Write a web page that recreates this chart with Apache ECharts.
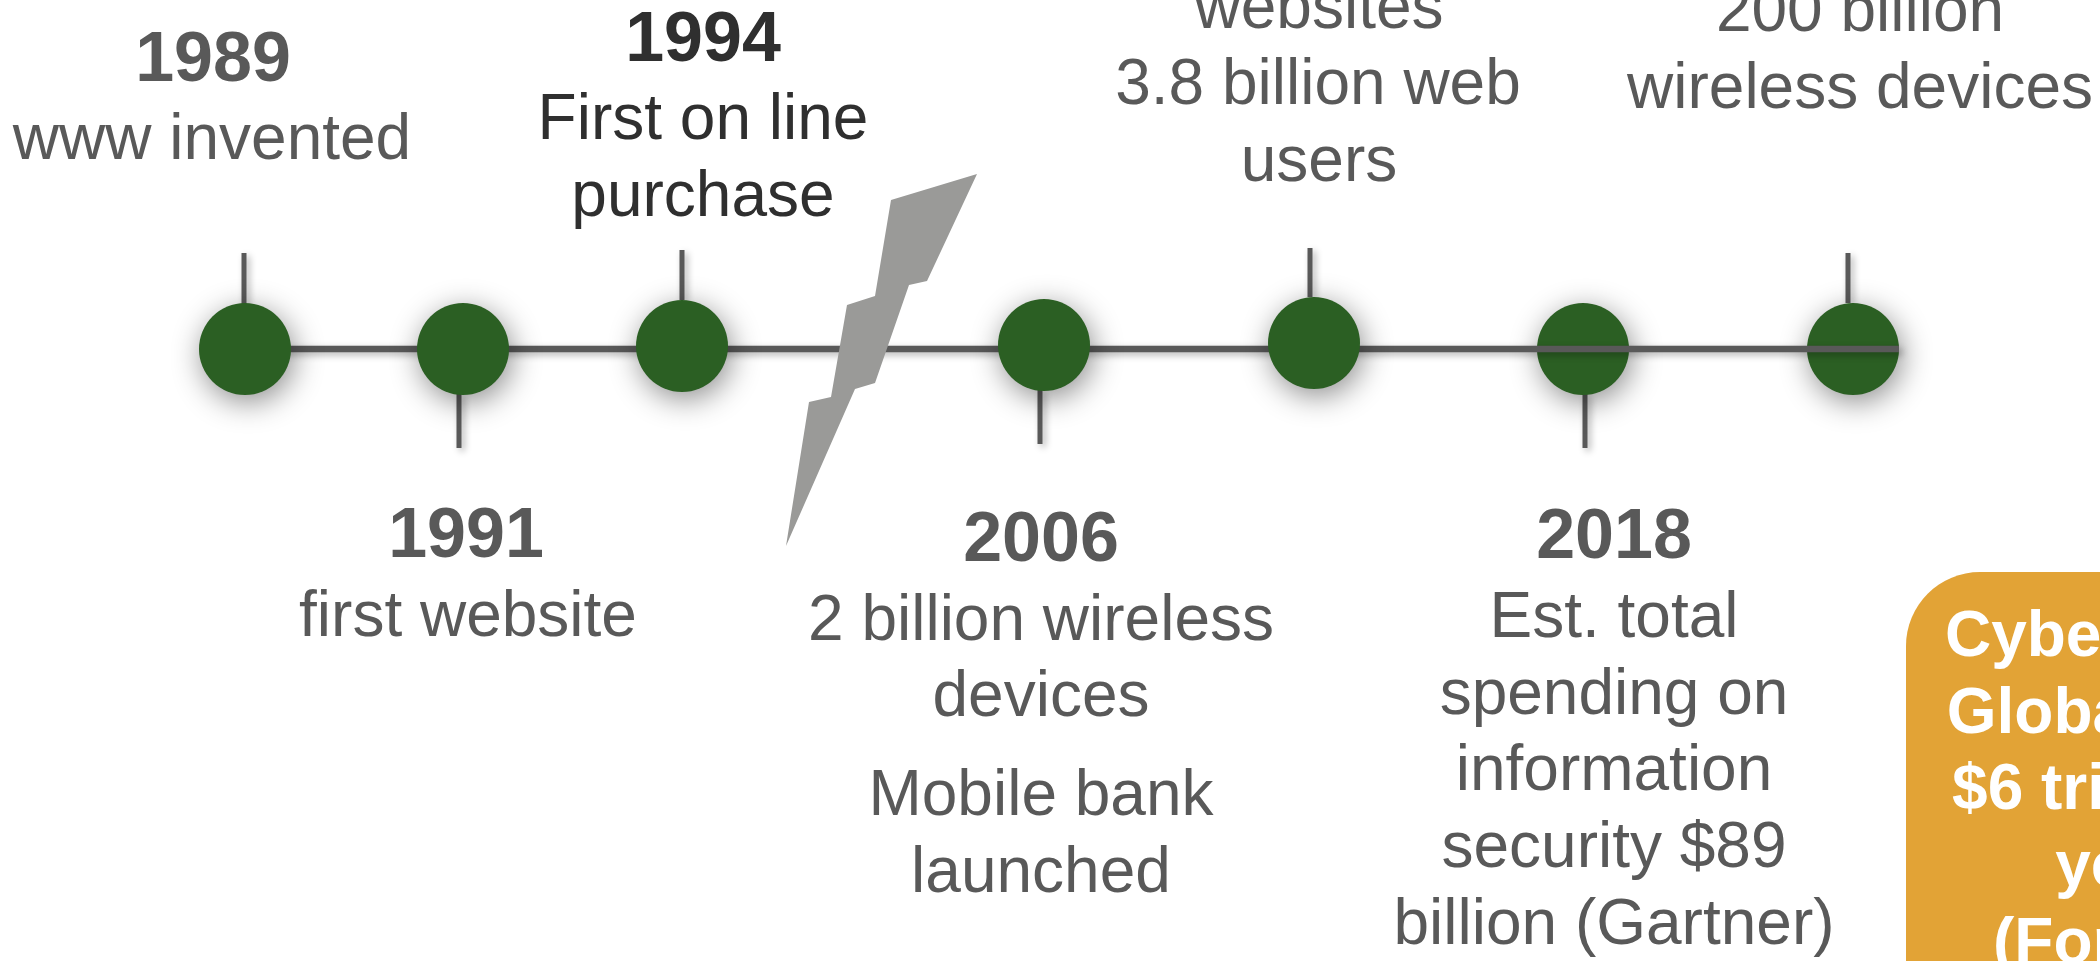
<!DOCTYPE html>
<html>
<head>
<meta charset="utf-8">
<style>html,body{margin:0;padding:0;background:#fff}#c{width:2100px;height:961px}</style>
<script src="https://cdn.jsdelivr.net/npm/echarts@6/dist/echarts.min.js"></script>
</head>
<body>
<div id="c"></div>
<script>
// Timeline nodes
var nodeX = [245, 463, 682, 1044, 1314, 1583, 1853];
var nodeY = [349, 349, 346, 345, 343, 349, 349];
// Stems: x, start and end
var stemX = [244, 459, 682, 1040, 1310, 1585, 1848];
var stemFrom = [305, 393, 300, 389, 297, 393, 303];
var stemTo = [253, 448, 250, 444, 248, 448, 253];
// Backbone
var backboneX = [245, 1899];
var backboneY = [349, 349];
// Axis break
var boltX = [977, 891, 875, 847, 831, 809, 786, 855, 875, 909, 927];
var boltY = [174, 200, 296, 305, 397, 402, 546, 389, 383, 285, 281];
// Callout
var calloutX = [1906, 2340];
var calloutY = [572, 1110];
// Text rows
var labelText = [
  '1989', 'www invented',
  '1991', 'first website',
  '1994', 'First on line', 'purchase',
  '2006', '2 billion wireless', 'devices', 'Mobile bank', 'launched',
  'websites', '3.8 billion web', 'users',
  '2018', 'Est. total', 'spending on', 'information', 'security $89', 'billion (Gartner)',
  '200 billion', 'wireless devices'
];
var labelX = [
  213, 212,
  466, 468,
  703, 703, 703,
  1041, 1041, 1041, 1041, 1041,
  1319, 1318, 1319,
  1614, 1614, 1614, 1614, 1614, 1614,
  1860, 1860
];
var labelBase = [
  80, 158,
  556, 635,
  60, 138, 215,
  560, 639, 715, 814, 891,
  27, 103, 180,
  557, 636, 713, 789, 866, 943,
  30, 107
];
var labelKind = [
  'year', 'text',
  'year', 'text',
  'yearDark', 'textDark', 'textDark',
  'year', 'text', 'text', 'text', 'text',
  'text', 'text', 'text',
  'year', 'text', 'text', 'text', 'text', 'text',
  'text', 'text'
];
var calloutText = ['Cybercrime', 'Global cost', '$6 trillion a', 'year', '(Forbes)'];
var calloutTextX = [2121, 2121, 2121, 2121, 2121];
var calloutBase = [655, 732, 808, 885, 962];

var FONT = '"Liberation Sans", Arial, sans-serif';
var kinds = {
  year: {size: 70, weight: 'bold', color: '#595959'},
  yearDark: {size: 70, weight: 'bold', color: '#2f2f2f'},
  text: {size: 64, weight: 'normal', color: '#595959'},
  textDark: {size: 64, weight: 'normal', color: '#2f2f2f'},
  callout: {size: 64, weight: 'bold', color: '#ffffff'}
};
function textItem(api, x, base, str, kind) {
  var k = kinds[kind];
  var p = api.coord([x, base]);
  return {
    type: 'text',
    style: {
      x: p[0], y: p[1] - 0.3465 * k.size + 6,
      text: str, fill: k.color,
      font: k.weight + ' ' + k.size + 'px ' + FONT,
      textAlign: 'center', textVerticalAlign: 'middle'
    }
  };
}
function zip() {
  var a = arguments;
  return a[0].map(function (_, i) {
    return Array.prototype.map.call(a, function (arr) { return arr[i]; });
  });
}
var lineShadow = {shadowColor: 'rgba(0,0,0,0.3)', shadowBlur: 7, shadowOffsetX: 3, shadowOffsetY: 3};
var nodeStyle = {color: '#2b5f23', shadowColor: 'rgba(0,0,0,0.45)', shadowBlur: 30, shadowOffsetX: 3, shadowOffsetY: 7, opacity: 1};

var chart = echarts.init(document.getElementById('c'), null, {renderer: 'canvas'});
chart.setOption({
  animation: false,
  backgroundColor: '#ffffff',
  grid: {left: 0, right: 0, top: 0, bottom: 0},
  xAxis: {type: 'value', min: 0, max: 2100, show: false},
  yAxis: {type: 'value', min: 0, max: 961, inverse: true, show: false},
  series: [
    { // stems
      type: 'custom', z: 1, clip: false, silent: true,
      data: zip(stemX, stemFrom, stemTo),
      encode: {x: 0, y: [1, 2]},
      renderItem: function (params, api) {
        var a = api.coord([api.value(0), api.value(1)]);
        var b = api.coord([api.value(0), api.value(2)]);
        return {type: 'line', shape: {x1: a[0], y1: a[1], x2: b[0], y2: b[1]},
          style: Object.assign({stroke: '#595959', lineWidth: 5, lineCap: 'butt'}, lineShadow)};
      }
    },
    { // nodes under the backbone
      type: 'scatter', z: 2, silent: true, symbol: 'circle', symbolSize: 92,
      data: zip(nodeX, nodeY).slice(5), itemStyle: nodeStyle
    },
    { // backbone
      type: 'line', z: 3, silent: true, symbol: 'none', clip: false,
      data: zip(backboneX, backboneY),
      lineStyle: Object.assign({color: '#595959', width: 6.5, cap: 'butt'}, lineShadow)
    },
    { // nodes over the backbone
      type: 'scatter', z: 4, silent: true, symbol: 'circle', symbolSize: 92,
      data: zip(nodeX, nodeY).slice(0, 5), itemStyle: nodeStyle
    },
    { // axis break
      type: 'custom', z: 5, silent: true, clip: false,
      data: zip(boltX, boltY),
      renderItem: function (params, api) {
        if (params.dataIndex !== 0) return null;
        return {type: 'polygon',
          shape: {points: boltX.map(function (x, i) { return api.coord([x, boltY[i]]); })},
          style: {fill: '#9a9a98'}};
      }
    },
    { // callout box
      type: 'custom', z: 6, silent: true, clip: false,
      data: [[calloutX[0], calloutY[0], calloutX[1], calloutY[1]]],
      renderItem: function (params, api) {
        var a = api.coord([api.value(0), api.value(1)]);
        var b = api.coord([api.value(2), api.value(3)]);
        return {type: 'rect', shape: {x: a[0], y: a[1], width: b[0] - a[0], height: b[1] - a[1], r: 74},
          style: {fill: '#e2a336'}};
      }
    },
    { // labels
      type: 'custom', z: 7, silent: true, clip: false,
      data: zip(labelX, labelBase),
      renderItem: function (params, api) {
        var i = params.dataIndex;
        return textItem(api, labelX[i], labelBase[i], labelText[i], labelKind[i]);
      }
    },
    { // callout text
      type: 'custom', z: 8, silent: true, clip: false,
      data: zip(calloutTextX, calloutBase),
      renderItem: function (params, api) {
        var i = params.dataIndex;
        return textItem(api, calloutTextX[i], calloutBase[i], calloutText[i], 'callout');
      }
    }
  ]
});
</script>
</body>
</html>
